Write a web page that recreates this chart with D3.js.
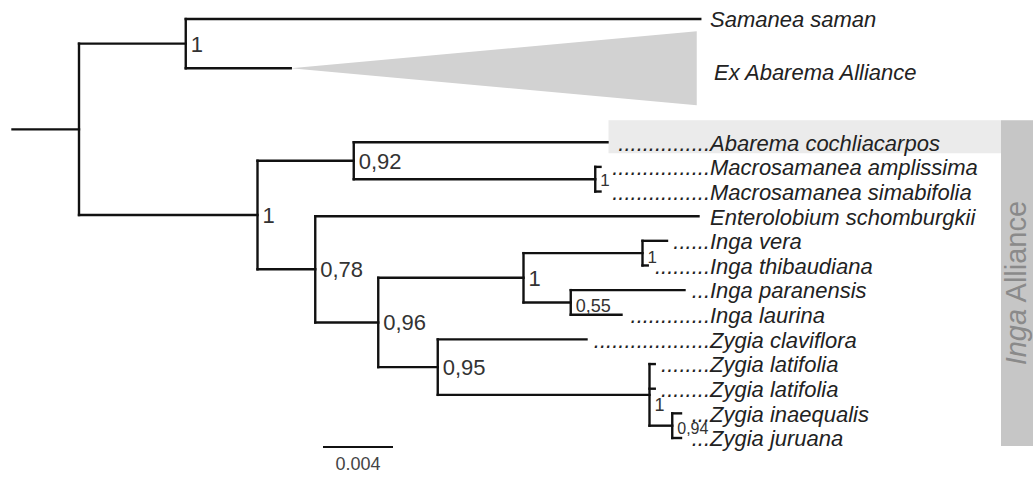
<!DOCTYPE html>
<html>
<head>
<meta charset="utf-8">
<script src="https://cdn.jsdelivr.net/npm/d3@7"></script>
<style>
  body { margin: 0; background: #fff; }
  svg { display: block; font-family: "Liberation Sans", Arial, sans-serif; }
</style>
</head>
<body>
<svg id="chart" width="1033" height="483"></svg>
<script>
// tree topology + branch lengths (substitutions/site)
const nodeIds = ["root", "nTop", "sam", "exab", "nIA", "nAb", "abar", "nMac", "mamp", "msim",
  "nEnt", "ent", "n96", "nInga", "nVT", "ivera", "ithib", "nPL", "ipar", "ilau",
  "n95", "zcla", "nZL", "zlat1", "zlat2", "nIJ", "zina", "zjur"];
const parentIds = ["", "root", "nTop", "nTop", "root", "nIA", "nAb", "nAb", "nMac", "nMac",
  "nIA", "nEnt", "nEnt", "n96", "nInga", "nVT", "nVT", "nInga", "nPL", "nPL",
  "n96", "n95", "n95", "nZL", "nZL", "nZL", "nIJ", "nIJ"];
const branchLengths = [0.0038, 0.0061, 0.0294, 0.0060, 0.0102, 0.0055, 0.0145, 0.0138, 0.0003, 0.0003,
  0.0033, 0.0219, 0.0036, 0.0083, 0.0068, 0.0014, 0.0003, 0.0027, 0.0065, 0.0029,
  0.0034, 0.0085, 0.0121, 0.0003, 0.0003, 0.0013, 0.0005, 0.0005];

const leafIds = ["sam", "exab", "abar", "mamp", "msim", "ent", "ivera", "ithib", "ipar", "ilau",
  "zcla", "zlat1", "zlat2", "zina", "zjur"];
const leafNames = ["Samanea saman", "Ex Abarema Alliance", "Abarema cochliacarpos",
  "Macrosamanea amplissima", "Macrosamanea simabifolia", "Enterolobium schomburgkii",
  "Inga vera", "Inga thibaudiana", "Inga paranensis", "Inga laurina", "Zygia claviflora",
  "Zygia latifolia", "Zygia latifolia", "Zygia inaequalis", "Zygia juruana"];

const supportNodes = ["nTop", "nIA", "nAb", "nMac", "nEnt", "n96", "nInga", "nVT", "nPL", "n95", "nZL", "nIJ"];
const supportValues = ["1", "1", "0,92", "1", "0,78", "0,96", "1", "1", "0,55", "0,95", "1", "0,94"];

const collapsedIds = ["exab"];
const collapsedDepths = [0.0232];

const highlightLeaf = "abar";
const allianceFirst = "abar", allianceLast = "zjur";
const scaleBarValue = 0.004;

// ---- layout
const svg = d3.select("#chart");
const x = d3.scaleLinear().domain([0, scaleBarValue]).range([79, 149]);
const y = d3.scaleLinear().domain([0, 17]).range([19, 438]);

const table = nodeIds.map((id, i) => ({ id: id, parent: parentIds[i], len: branchLengths[i] }));
const root = d3.stratify().id(d => d.id).parentId(d => d.parent || null)(table);

root.each(d => { d.depthLen = d.parent ? d.parent.depthLen + d.data.len : 0; });

let row = 0;
root.leaves().forEach(d => {
  if (collapsedIds.includes(d.id)) { d.row = row + 1; row += 4; }
  else { d.row = row; row += 1; }
});
root.eachAfter(d => {
  if (d.children) {
    d.yPos = (d.children[0].yPos + d.children[d.children.length - 1].yPos) / 2;
  } else {
    d.yPos = y(d.row);
  }
  d.xPos = x(d.depthLen);
});
const byId = new Map(root.descendants().map(d => [d.id, d]));

// ---- background boxes
const nameX = 710;
const barX = 1001;
const first = byId.get(allianceFirst), last = byId.get(allianceLast);
svg.append("rect")
  .attr("x", barX).attr("y", first.yPos - 22)
  .attr("width", 1033 - barX).attr("height", last.yPos + 8 - (first.yPos - 22))
  .attr("fill", "#c6c6c6");

const hl = byId.get(highlightLeaf);
svg.append("rect")
  .attr("x", hl.xPos + 1).attr("y", hl.yPos - 22)
  .attr("width", barX - hl.xPos - 1).attr("height", 33)
  .attr("fill", "#ebebeb");

// collapsed clade triangle
collapsedIds.forEach((id, i) => {
  const d = byId.get(id);
  const x1 = x(d.depthLen + collapsedDepths[i]);
  const half = (y(1.5) - y(0));
  svg.append("path")
    .attr("d", `M${d.xPos},${d.yPos}L${x1},${d.yPos - half}L${x1},${d.yPos + half}Z`)
    .attr("fill", "#d2d2d2");
});

// ---- branches
const lines = svg.append("g")
  .attr("stroke", "#111").attr("stroke-width", 2.4).attr("stroke-linecap", "square").attr("fill", "none");

lines.append("line")
  .attr("x1", x(-root.data.len)).attr("x2", root.xPos)
  .attr("y1", root.yPos).attr("y2", root.yPos);

lines.selectAll(".h")
  .data(root.descendants().filter(d => d.parent))
  .join("line")
  .attr("class", "h")
  .attr("x1", d => d.parent.xPos).attr("x2", d => d.xPos)
  .attr("y1", d => d.yPos).attr("y2", d => d.yPos);

lines.selectAll(".v")
  .data(root.descendants().filter(d => d.children))
  .join("line")
  .attr("class", "v")
  .attr("x1", d => d.xPos).attr("x2", d => d.xPos)
  .attr("y1", d => d.children[0].yPos)
  .attr("y2", d => d.children[d.children.length - 1].yPos);

// ---- support values
const supStyle = {
  nMac: { size: 17, dy: 1 }, nVT: { size: 17, dy: 4 }, nPL: { size: 18, dy: 3 },
  nZL: { size: 18, dy: 10 }, nIJ: { size: 16, dy: 3 }
};
svg.append("g").selectAll("text")
  .data(supportNodes)
  .join("text")
  .attr("x", id => byId.get(id).xPos + 5)
  .attr("y", id => byId.get(id).yPos + (supStyle[id] ? supStyle[id].dy : 0))
  .attr("dy", "0.36em")
  .attr("font-size", id => (supStyle[id] ? supStyle[id].size : 22) + "px")
  .attr("fill", "#333")
  .text((id, i) => supportValues[i]);

// ---- tip labels
const fontSize = 22;
const dotW = 0.278 * fontSize;
const tips = svg.append("g").attr("font-size", fontSize + "px").attr("font-style", "italic").attr("fill", "#222");

leafIds.forEach((id, i) => {
  const d = byId.get(id);
  if (collapsedIds.includes(id)) {
    tips.append("text")
      .attr("x", nameX + 4).attr("y", d.yPos + 4).attr("dy", "0.36em")
      .text(leafNames[i]);
    return;
  }
  const gap = nameX - d.xPos;
  if (gap > 15) {
    const n = Math.round((gap - 9) / dotW);
    tips.append("text")
      .attr("x", nameX).attr("y", d.yPos).attr("dy", "0.38em")
      .attr("text-anchor", "end")
      .text(".".repeat(n));
  }
  tips.append("text")
    .attr("x", nameX).attr("y", d.yPos).attr("dy", "0.38em")
    .text(leafNames[i]);
});

// ---- clade label
const ingaLabel = svg.append("text")
  .attr("transform", `translate(1026,${(first.yPos - 22 + last.yPos + 8) / 2}) rotate(-90)`)
  .attr("text-anchor", "middle")
  .attr("font-size", "29px")
  .attr("fill", "#8a8a8a");
ingaLabel.append("tspan").attr("font-style", "italic").text("Inga");
ingaLabel.append("tspan").text(" Alliance");

// ---- scale bar
const sbX = 323, sbY = 447;
const sbLen = x(scaleBarValue) - x(0);
svg.append("line")
  .attr("x1", sbX).attr("x2", sbX + sbLen)
  .attr("y1", sbY).attr("y2", sbY)
  .attr("stroke", "#111").attr("stroke-width", 2);
svg.append("text")
  .attr("x", sbX + sbLen / 2).attr("y", sbY + 23)
  .attr("text-anchor", "middle")
  .attr("font-size", "18px")
  .attr("fill", "#444")
  .text(scaleBarValue);
</script>
</body>
</html>
